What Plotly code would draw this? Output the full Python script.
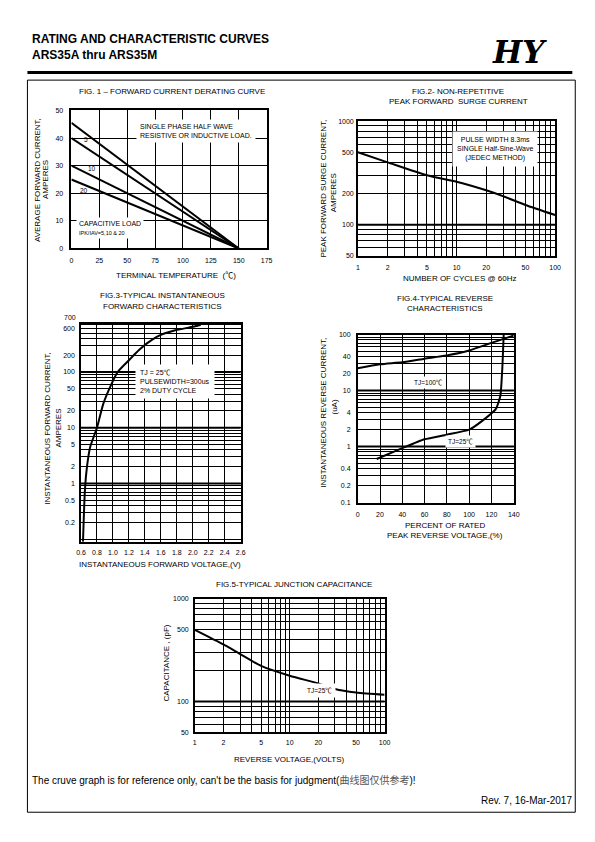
import math
import plotly.graph_objects as go

# page is 595x842; the browser body adds an 8px margin, so the figure is drawn
# 8px smaller and every page-pixel position is shifted by that margin
PAGE_W, PAGE_H = 595, 842
OFF = 8
W, H = PAGE_W - OFF, PAGE_H - OFF
FONT = "Arial, Liberation Sans, Helvetica, Noto Sans CJK SC, sans-serif"


def PX(x):
    return (x - OFF) / W


def PY(y):
    return 1 - (y - OFF) / H


# ---------------- data ----------------
# Fig.1 forward current derating curve
fig1_temp = [0, 150]
fig1_resistive = [45.5, 0]
fig1_cap5 = [40, 0]
fig1_cap10 = [30, 0]
fig1_cap20 = [25, 0]
fig1_xticks = [0, 25, 50, 75, 100, 125, 150, 175]
fig1_yticks = [0, 10, 20, 30, 40, 50]

# Fig.2 non-repetitive peak forward surge current
fig2_cycles = [1, 2, 5, 10, 20, 30, 50, 100]
fig2_current = [500, 400, 300, 260, 215, 188, 155, 124]
fig2_xlabels = [1, 2, 5, 10, 20, 50, 100]
fig2_ylabels = [50, 100, 200, 500, 1000]

# Fig.3 typical instantaneous forward characteristics
fig3_voltage = [0.625, 0.65, 0.675, 0.715, 0.80, 0.88, 0.98, 1.06, 1.19, 1.33, 1.43, 1.58, 1.78, 2.03, 2.10]
fig3_current = [0.09, 0.8, 2.0, 4.5, 10, 27, 60, 100, 157, 250, 330, 450, 560, 660, 700]
fig3_xticks = [0.6, 0.8, 1.0, 1.2, 1.4, 1.6, 1.8, 2.0, 2.2, 2.4, 2.6]
fig3_ylabels = [0.2, 0.5, 1, 2, 5, 10, 20, 50, 100, 200, 600]
fig3_top_label = "700"   # printed just above the frame in the original

# Fig.4 typical reverse characteristics
fig4_pct_100c = [0, 20, 40, 60, 80, 100, 120, 140]
fig4_ir_100c = [25, 29.5, 32, 37, 42.5, 52, 71, 96]
fig4_pct_25c = [17, 40, 60, 80, 100, 112, 124, 128, 129.7, 131]
fig4_ir_25c = [0.6, 0.94, 1.35, 1.63, 2.0, 2.9, 4.7, 8.1, 24, 100]
fig4_xticks = [0, 20, 40, 60, 80, 100, 120, 140]
fig4_ylabels = [0.1, 0.2, 0.4, 1, 2, 4, 10, 20, 40, 100]

# Fig.5 typical junction capacitance
fig5_voltage = [1, 2, 3, 5, 10, 20, 30, 50, 100]
fig5_capacitance = [500, 360, 290, 222, 178, 150, 132, 122, 116]
fig5_xlabels = [1, 2, 5, 10, 20, 50, 100]
fig5_ylabels = [50, 100, 500, 1000]


# ---------------- helpers ----------------
def log_grid(lo, hi):
    vals = []
    d = 10.0 ** math.floor(math.log10(lo))
    while d <= hi * 1.0001:
        for m in range(1, 10):
            v = round(m * d, 10)
            if lo * 0.999 <= v <= hi * 1.001:
                vals.append(v)
        d *= 10
    return vals


def tick_text(vals, labels, fmt="%g"):
    out = []
    for v in vals:
        if any(abs(v - l) <= 1e-9 * max(1.0, abs(l)) for l in labels):
            out.append(fmt % v)
        else:
            out.append("")
    return out


# plot boxes in page pixels: left, right, top, bottom
BOX = {
    1: (67.5, 266.5, 107.3, 246.5),
    2: (359.5, 560.5, 118.0, 254.0),
    3: (77.3, 240.0, 322.3, 542.3),
    4: (359.3, 518.3, 333.3, 502.7),
    5: (193.3, 386.7, 600.0, 734.3),
}


def axis_common():
    return dict(showline=True, mirror=True, linecolor="black", linewidth=1.5,
                showgrid=True, gridcolor="black", gridwidth=1, zeroline=False,
                ticks="", tickfont=dict(family=FONT, size=7, color="black"),
                fixedrange=True)


layout_axes = {}


def set_axes(n, xcfg, ycfg):
    l, r, t, b = BOX[n]
    sfx = "" if n == 1 else str(n)
    xa = axis_common()
    xa.update(domain=[PX(l), PX(r)], anchor="y" + sfx)
    xa.update(xcfg)
    ya = axis_common()
    ya.update(domain=[PY(b), PY(t)], anchor="x" + sfx)
    ya.update(ycfg)
    layout_axes["xaxis" + sfx] = xa
    layout_axes["yaxis" + sfx] = ya


fig = go.Figure()


def curve(n, x, y, width=2.0, spline=True, smoothing=0.8):
    sfx = "" if n == 1 else str(n)
    line = dict(color="black", width=width)
    if spline:
        line.update(shape="spline", smoothing=smoothing)
    fig.add_trace(go.Scatter(x=x, y=y, mode="lines", line=line,
                             xaxis="x" + sfx, yaxis="y" + sfx,
                             hoverinfo="skip", showlegend=False))


# Fig 1
set_axes(1,
         dict(range=[0, 175], tickvals=fig1_xticks, ticktext=[str(v) for v in fig1_xticks],
              ticklabelstandoff=4),
         dict(range=[0, 50], tickvals=fig1_yticks, ticktext=[str(v) for v in fig1_yticks],
              ticklabelstandoff=5))
for ys in (fig1_resistive, fig1_cap5, fig1_cap10, fig1_cap20):
    curve(1, fig1_temp, ys, spline=False)

# Fig 2
g2x = log_grid(1, 100)
g2y = log_grid(50, 1000)
set_axes(2,
         dict(type="log", range=[0, 2], tickvals=g2x, ticktext=tick_text(g2x, fig2_xlabels),
              ticklabelstandoff=4),
         dict(type="log", range=[math.log10(50), 3], tickvals=g2y, ticktext=tick_text(g2y, fig2_ylabels),
              ticklabelstandoff=1))
curve(2, fig2_cycles, fig2_current, smoothing=0.6)

# Fig 3
g3y = log_grid(0.1, 700)
set_axes(3,
         dict(range=[0.6, 2.6], tickvals=fig3_xticks, ticktext=["%.1f" % v for v in fig3_xticks],
              ticklabelstandoff=3),
         dict(type="log", range=[math.log10(0.0895), math.log10(736)], tickvals=g3y,
              ticktext=tick_text(g3y, fig3_ylabels), ticklabelstandoff=3))
curve(3, fig3_voltage, fig3_current, smoothing=0.7)

# Fig 4
g4y = log_grid(0.1, 100)
set_axes(4,
         dict(range=[0, 140], tickvals=fig4_xticks, ticktext=[str(v) for v in fig4_xticks],
              ticklabelstandoff=4),
         dict(type="log", range=[-1, 2], tickvals=g4y, ticktext=tick_text(g4y, fig4_ylabels),
              ticklabelstandoff=4))
curve(4, fig4_pct_100c, fig4_ir_100c, smoothing=0.6)
curve(4, fig4_pct_25c, fig4_ir_25c, smoothing=0.5)

# Fig 5
g5x = log_grid(1, 100)
g5y = log_grid(50, 1000)
set_axes(5,
         dict(type="log", range=[0, 2], tickvals=g5x, ticktext=tick_text(g5x, fig5_xlabels),
              ticklabelstandoff=3),
         dict(type="log", range=[math.log10(50), 3], tickvals=g5y, ticktext=tick_text(g5y, fig5_ylabels),
              ticklabelstandoff=3))
curve(5, fig5_voltage, fig5_capacitance, smoothing=0.7)

# ---------------- text ----------------
ann = []


def text(x, y, s, size=8, xanchor="center", yanchor="middle", angle=0, bg=None,
         pad=1, align="center", family=FONT, color="black"):
    d = dict(x=PX(x), y=PY(y), xref="paper", yref="paper", text=s, showarrow=False,
             font=dict(family=family, size=size, color=color), xanchor=xanchor,
             yanchor=yanchor, textangle=angle, align=align)
    if bg:
        d.update(bgcolor=bg, borderpad=pad)
    ann.append(d)


# header
text(25, 35.5, "<b>RATING AND CHARACTERISTIC CURVES</b>", size=12, xanchor="left")
text(25, 51, "<b>ARS35A thru ARS35M</b>", size=12, xanchor="left")
text(524, 48, "<b><i>HY</i></b>", size=31, family="DejaVu Serif, Liberation Serif, serif")

# Fig 1 text
text(170, 88.3, "FIG. 1 \u2013 FORWARD CURRENT DERATING CURVE", size=8)
text(133, 128, "SINGLE PHASE HALF WAVE<br>RESISTIVE OR INDUCTIVE LOAD.", size=7,
     xanchor="left", align="left", bg="white", pad=3)
text(82, 137, "5", size=6.5)
text(89, 166, "10", size=6.5)
text(80, 188, "20", size=6.5)
text(72, 226, "CAPACITIVE LOAD<br><span style='font-size:5.5px'>IPK/IAV=5,10 &amp; 20</span>",
     size=7, xanchor="left", align="left", bg="white", pad=2)
text(33, 178, "AVERAGE FORWARD CURRENT,", size=8, angle=-90)
text(41, 177, "AMPERES", size=8, angle=-90)
text(174, 274, "TERMINAL TEMPERATURE  (\u2103)", size=8)

# Fig 2 text
text(462, 88.3, "FIG.2- NON-REPETITIVE", size=8)
text(462, 98.5, "PEAK FORWARD  SURGE CURRENT", size=8)
text(499, 146, "PULSE WIDTH 8.3ms<br>SINGLE Half-Sine-Wave<br>(JEDEC METHOD)", size=7,
     bg="white", pad=4)
text(324, 186, "PEAK FORWARD SURGE CURRENT,", size=8, angle=-90)
text(335, 190, "AMPERES", size=8, angle=-90)
text(463, 277, "NUMBER OF CYCLES @ 60Hz", size=8)

# Fig 3 text
text(160, 294, "FIG.3-TYPICAL INSTANTANEOUS", size=8)
text(160, 305, "FORWARD CHARACTERISTICS", size=8)
text(74.5, 316, fig3_top_label, size=7, xanchor="right")
text(132, 381, "TJ = 25\u2103<br>PULSEWIDTH=300us<br>2% DUTY CYCLE", size=7,
     xanchor="left", align="left", bg="white", pad=4)
text(43, 428, "INSTANTANEOUS FORWARD CURRENT,", size=8, angle=-90)
text(54, 428, "AMPERES", size=8, angle=-90)
text(158, 565, "INSTANTANEOUS FORWARD VOLTAGE,(V)", size=8)

# Fig 4 text
text(448, 297, "FIG.4-TYPICAL REVERSE", size=8)
text(448, 307, "CHARACTERISTICS", size=8)
text(431, 382, "TJ=100\u2103", size=6.5, bg="white", pad=2)
text(464, 441, "TJ=25\u2103", size=6.5, bg="white", pad=2)
text(325, 412, "INSTANTANEOUS REVERSE CURRENT,", size=8, angle=-90)
text(336, 406, "(uA)", size=8, angle=-90)
text(448, 526, "PERCENT OF RATED", size=8)
text(448, 536, "PEAK REVERSE VOLTAGE,(%)", size=8)

# Fig 5 text
text(294, 585, "FIG.5-TYPICAL JUNCTION CAPACITANCE", size=8)
text(320, 692, "TJ=25\u2103", size=6.5, bg="white", pad=3)
text(164, 665, "CAPACITANCE , (pF)", size=8, angle=-90)
text(290, 762, "REVERSE VOLTAGE,(VOLTS)", size=8)

# footer
text(25, 782, "The cruve graph is for reference only, can't be the basis for judgment("
     "<span style='color:#555'>\u66f2\u7ebf\u56fe\u4ec5\u4f9b\u53c2\u8003</span>)!",
     size=10, xanchor="left")
text(580, 803, "Rev. 7, 16-Mar-2017", size=10, xanchor="right")

# ---------------- shapes ----------------
shapes = [
    dict(type="line", xref="paper", yref="paper", x0=PX(22.7), x1=PX(578), y0=PY(69), y1=PY(69),
         line=dict(color="black", width=3)),
    dict(type="rect", xref="paper", yref="paper", x0=PX(22.7), x1=PX(581), y0=PY(76.7), y1=PY(815),
         line=dict(color="black", width=1)),
]
# heavier decade rules on the log grids
for n, vals in ((2, [100]), (3, [1, 10, 100]), (4, [1, 10]), (5, [100])):
    for v in vals:
        shapes.append(dict(type="line", xref="x%d domain" % n, yref="y%d" % n,
                           x0=0, x1=1, y0=v, y1=v, layer="below",
                           line=dict(color="black", width=2)))

fig.update_layout(
    width=W, height=H,
    margin=dict(l=0, r=0, t=0, b=0),
    paper_bgcolor="white", plot_bgcolor="white",
    showlegend=False,
    annotations=ann,
    shapes=shapes,
    font=dict(family=FONT, color="black"),
    **layout_axes,
)

fig.write_html("out.html")
